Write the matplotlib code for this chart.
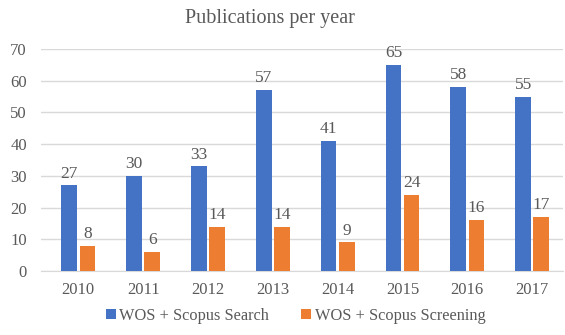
import matplotlib.pyplot as plt
import numpy as np

# Data
years = ['2010', '2011', '2012', '2013', '2014', '2015', '2016', '2017']
search = [27, 30, 33, 57, 41, 65, 58, 55]
screening = [8, 6, 14, 14, 9, 24, 16, 17]

blue = '#4472C4'
orange = '#ED7D31'
text_col = '#595959'

plt.rcParams['font.family'] = ['Liberation Serif', 'DejaVu Serif']

fig = plt.figure(figsize=(5.65, 3.35), dpi=100)
ax = fig.add_axes([0.072, 0.191, 0.925, 0.663])

x = np.arange(len(years))
w = 0.24
off = 0.14
b1 = ax.bar(x - off, search, w, color=blue, label='WOS + Scopus Search', zorder=3)
b2 = ax.bar(x + off, screening, w, color=orange, label='WOS + Scopus Screening', zorder=3)

for bars in (b1, b2):
    for rect in bars:
        h = rect.get_height()
        ax.text(rect.get_x() + rect.get_width() / 2, h + 1.2, str(int(h)),
                ha='center', va='bottom', fontsize=12.5, color=text_col)

ax.set_xlim(-0.58, 7.48)
ax.set_ylim(0, 70)
ax.set_yticks(range(0, 71, 10))
ax.set_xticks(x)
ax.set_xticklabels(years)
ax.tick_params(axis='both', length=0, labelsize=12, colors=text_col)
ax.tick_params(axis='x', pad=8)
ax.tick_params(axis='y', pad=10)
ax.yaxis.grid(True, color='#d9d9d9', linewidth=1, zorder=0)
for s in ('top', 'right', 'left'):
    ax.spines[s].set_visible(False)
ax.spines['bottom'].set_color('#d9d9d9')

# title sits a bit left of the axes centre in the reference
fig.text(0.478, 0.945, 'Publications per year', ha='center', va='center',
         fontsize=14.5, color=text_col)

fig.legend(loc='lower center', bbox_to_anchor=(0.523, -0.01), ncol=2, frameon=False,
           fontsize=11.8, labelcolor=text_col, handlelength=0.6, handleheight=0.6,
           handletextpad=0.2, columnspacing=2.0)

fig.savefig('out.png', dpi=100)
